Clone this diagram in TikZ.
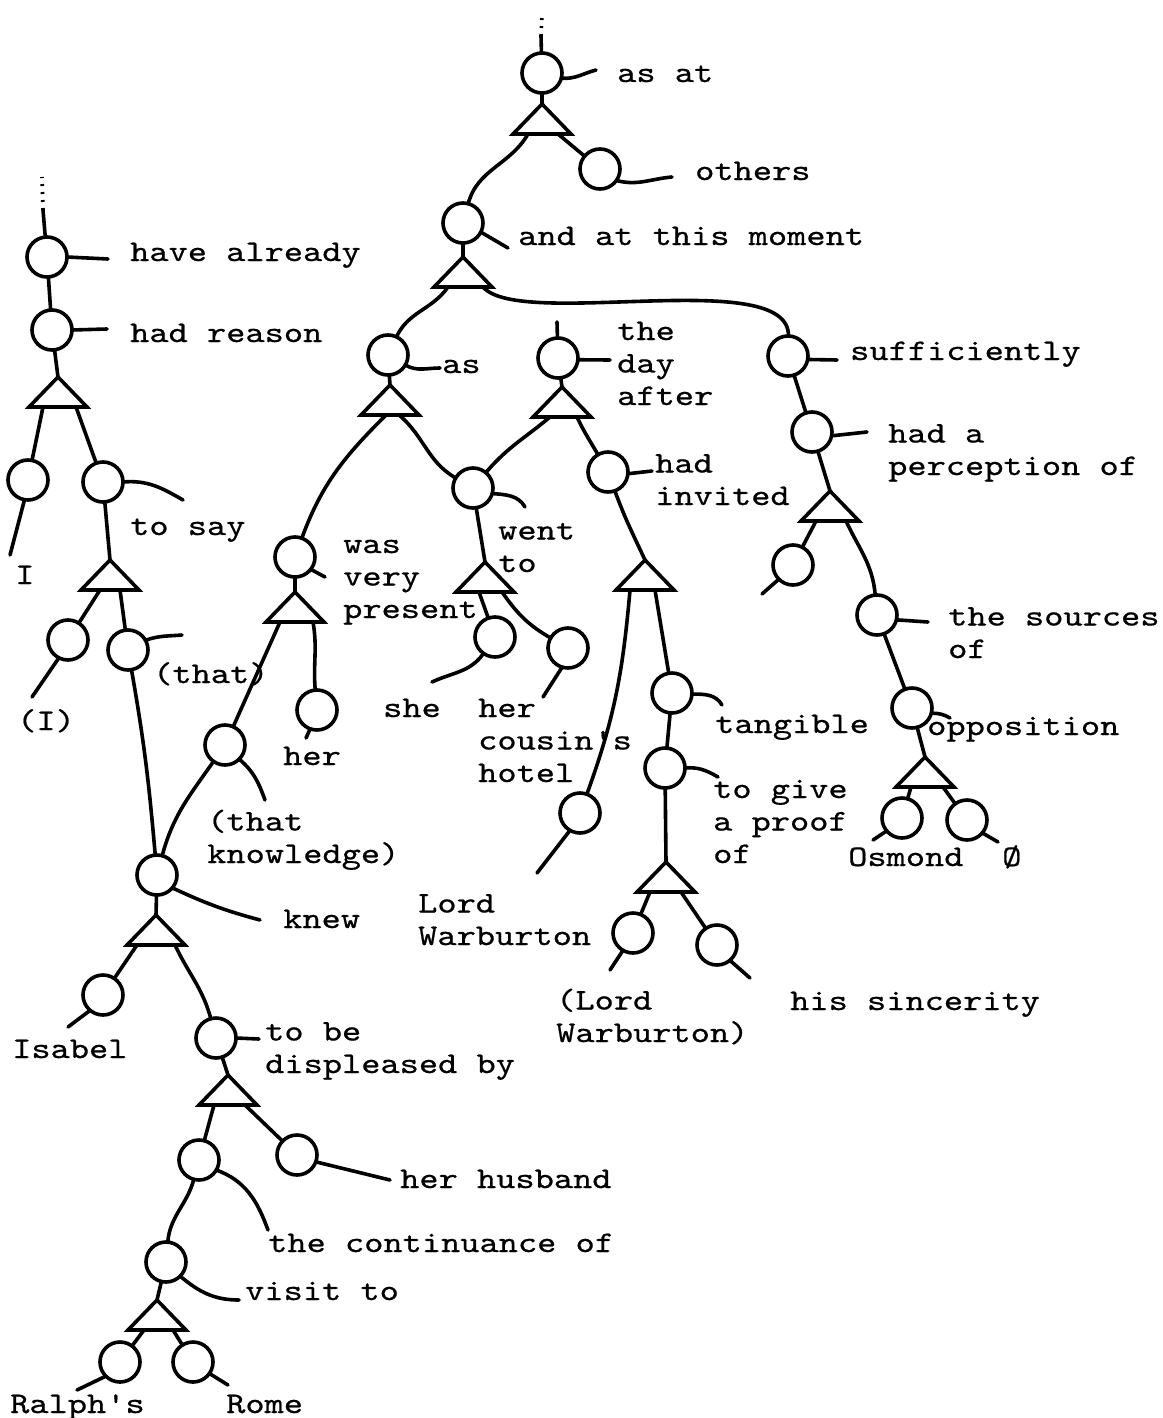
\documentclass[tikz,border=0pt]{standalone}
\usepackage{fontspec}
\usetikzlibrary{shapes.geometric}
\newfontfamily\TypeFont{lmmono10-regular.otf}[FakeStretch=1.22, FakeBold=0.6]

\begin{document}
\begin{tikzpicture}[x=1pt,y=-1pt]
	  \useasboundingbox (0,0) rectangle (1162,1418);
	  \tikzset{CircleStyle/.style = {circle,
	  								  draw,
	  								  line width     = 3.6pt,
									  inner sep      = 0pt,
	                                 outer sep      = 0pt,
	                                 minimum size   = 40pt}}

	  \tikzset{TriangleStyle/.style = {isosceles triangle,
	  								  draw,
	  								  line width     = 3.6pt,
	  								  shape border rotate = 90,
	  								  isosceles triangle stretches,
	  								  minimum width  = 58pt,
	  								  minimum height = 30pt,
									  inner sep      = 0pt,
	                                 outer sep      = 0pt,
	                                 anchor         = apex}}

	  \tikzset{EdgeStyle/.style   = {line width = 3.6pt, line cap = round}}
	  \tikzset{DotStyle/.style    = {line width = 3.6pt, dash pattern = on 2pt off 6pt}}

	  \tikzset{LabelStyle/.style =   {anchor = base west, inner sep = 0pt, align = left,
	                                 font = \TypeFont\fontsize{30pt}{32.5pt}\selectfont}}

	     % right tree
	     \node[CircleStyle](C_1) at (542,73) {};
	     \node[CircleStyle](C_2) at (600,169) {};
	     \node[CircleStyle](C_3) at (463,223) {};
	     \node[CircleStyle](C_4) at (388,355) {};
	     \node[CircleStyle](C_5) at (558,358) {};
	     \node[CircleStyle](C_6) at (788,356) {};
	     \node[CircleStyle](C_7) at (473,488) {};
	     \node[CircleStyle](C_8) at (495,637) {};
	     \node[CircleStyle](C_9) at (568,648) {};
	     \node[CircleStyle](C_10) at (295,557) {};
	     \node[CircleStyle](C_11) at (225,745) {};
	     \node[CircleStyle](C_12) at (317,710) {};
	     \node[CircleStyle](C_13) at (608,472) {};
	     \node[CircleStyle](C_14) at (580,813) {};
	     \node[CircleStyle](C_15) at (672,693) {};
	     \node[CircleStyle](C_16) at (665,768) {};
	     \node[CircleStyle](C_17) at (633,933) {};
	     \node[CircleStyle](C_18) at (717,945) {};
	     \node[CircleStyle](C_19) at (812,432) {};
	     \node[CircleStyle](C_20) at (793,565) {};
	     \node[CircleStyle](C_21) at (877,615) {};
	     \node[CircleStyle](C_22) at (912,708) {};
	     \node[CircleStyle](C_23) at (902,818) {};
	     \node[CircleStyle](C_24) at (967,820) {};

	     \node[TriangleStyle](T_1) at (542,104) {};
	     \node[TriangleStyle](T_2) at (463,257) {};
	     \node[TriangleStyle](T_3) at (390,385) {};
	     \node[TriangleStyle](T_4) at (562,387) {};
	     \node[TriangleStyle](T_5) at (485,562) {};
	     \node[TriangleStyle](T_6) at (295,592) {};
	     \node[TriangleStyle](T_7) at (645,560) {};
	     \node[TriangleStyle](T_8) at (666,862) {};
	     \node[TriangleStyle](T_9) at (830,491) {};
	     \node[TriangleStyle](T_10) at (925,757) {};

	     % left tree
	     \node[CircleStyle](C_25) at (47,257) {};
	     \node[CircleStyle](C_26) at (52,330) {};
	     \node[CircleStyle](C_27) at (28,480) {};
	     \node[CircleStyle](C_28) at (103,482) {};
	     \node[CircleStyle](C_29) at (68,640) {};
	     \node[CircleStyle](C_30) at (128,650) {};
	     \node[CircleStyle](C_31) at (157,875) {};
	     \node[CircleStyle](C_32) at (103,995) {};
	     \node[CircleStyle](C_33) at (216,1038) {};
	     \node[CircleStyle](C_34) at (199,1160) {};
	     \node[CircleStyle](C_35) at (297,1155) {};
	     \node[CircleStyle](C_36) at (166,1262) {};
	     \node[CircleStyle](C_37) at (120,1362) {};
	     \node[CircleStyle](C_38) at (193,1362) {};

	     \node[TriangleStyle](T_11) at (58,377) {};
	     \node[TriangleStyle](T_12) at (110,560) {};
	     \node[TriangleStyle](T_13) at (156,915) {};
	     \node[TriangleStyle](T_14) at (228,1075) {};
	     \node[TriangleStyle](T_15) at (157,1300) {};

	     \coordinate (D_1) at (542,14);
	     \coordinate (D_2) at (541,36);
	     \coordinate (D_3) at (42,177);
	     \coordinate (D_4) at (43,210);
	     \coordinate (D_5) at (557,322);
	     \coordinate (D_6) at (762,594);

	     \node[LabelStyle](L_1) at (617,82) {as at};
	     \node[LabelStyle](L_2) at (695,180) {others};
	     \node[LabelStyle](L_3) at (518,245) {and at this moment};
	     \node[LabelStyle](L_4) at (442,373) {as};
	     \node[LabelStyle](L_5) at (617,405) {the\\day\\after};
	     \node[LabelStyle](L_6) at (850,360) {sufficiently};
	     \node[LabelStyle](L_7) at (498,572) {went\\to};
	     \node[LabelStyle](L_8) at (383,717) {she};
	     \node[LabelStyle](L_9) at (478,782) {her\\cousin's\\hotel};
	     \node[LabelStyle](L_10) at (343,618) {was\\very\\present};
	     \node[LabelStyle](L_11) at (207,863) {(that\\knowledge)};
	     \node[LabelStyle](L_12) at (283,765) {her};
	     \node[LabelStyle](L_13) at (655,505) {had\\invited};
	     \node[LabelStyle](L_14) at (418,945) {Lord\\Warburton};
	     \node[LabelStyle](L_15) at (715,733) {tangible};
	     \node[LabelStyle](L_16) at (713,863) {to give\\a proof\\of};
	     \node[LabelStyle](L_17) at (556,1042) {(Lord\\Warburton)};
	     \node[LabelStyle](L_18) at (790,1010) {his sincerity};
	     \node[LabelStyle](L_19) at (888,475) {had a\\perception of};
	     \node[LabelStyle](L_21) at (948,658) {the sources\\of};
	     \node[LabelStyle](L_22) at (927,735) {opposition};
	     \node[LabelStyle](L_23) at (848,866) {Osmond};
	     \node[LabelStyle](L_24) at (1002,866) {Ø};
	     \node[LabelStyle](L_25) at (130,261) {have already};
	     \node[LabelStyle](L_26) at (130,342) {had reason};
	     \node[LabelStyle](L_27) at (15,584) {I};
	     \node[LabelStyle](L_28) at (130,535) {to say};
	     \node[LabelStyle](L_29) at (17,730) {(I)};
	     \node[LabelStyle](L_30) at (153,683) {(that)};
	     \node[LabelStyle](L_31) at (283,928) {knew};
	     \node[LabelStyle](L_32) at (12,1058) {Isabel};
	     \node[LabelStyle](L_33) at (265,1073) {to be\\displeased by};
	     \node[LabelStyle](L_34) at (268,1252) {the continuance of};
	     \node[LabelStyle](L_35) at (400,1188) {her husband};
	     \node[LabelStyle](L_36) at (245,1300) {visit to};
	     \node[LabelStyle](L_37) at (10,1413) {Ralph's};
	     \node[LabelStyle](L_38) at (226,1413) {Rome};

	     \draw[DotStyle](D_2) -- (D_1);
	     \draw[EdgeStyle](D_2) -- (C_1);
	     \draw[EdgeStyle](C_1) -- (T_1.apex);
	     \draw[EdgeStyle]([xshift=-14pt]T_1.lower side) to[out=-120,in=75] (C_3);
	     \draw[EdgeStyle]([xshift=16pt]T_1.lower side) -- (C_2);
	     \draw[EdgeStyle](C_3) -- (T_2.apex);
	     \draw[EdgeStyle]([xshift=-15pt]T_2.lower side) to[out=-125,in=65] (C_4);
	     \draw[EdgeStyle]([xshift=20pt]T_2.lower side) .. controls (520,330) and (790,265) .. (C_6);
	     \draw[EdgeStyle](C_4) -- (T_3.apex);
	     \draw[EdgeStyle]([xshift=-4pt]T_3.lower side) to[out=-135,in=70] (C_10);
	     \draw[EdgeStyle]([xshift=9pt]T_3.lower side) to[out=-40,in=150] (C_7);
	     \draw[EdgeStyle](C_5) -- (T_4.apex);
	     \draw[EdgeStyle](C_5) -- (D_5);
	     \draw[EdgeStyle]([xshift=-12pt]T_4.lower side) to[out=-140,in=50] (C_7);
	     \draw[EdgeStyle]([xshift=15pt]T_4.lower side) to[out=-65,in=120] (C_13);
	     \draw[EdgeStyle](C_7) -- (T_5.apex);
	     \draw[EdgeStyle]([xshift=-6pt]T_5.lower side) -- (C_8);
	     \draw[EdgeStyle]([xshift=17pt]T_5.lower side) to[out=-55,in=150] (C_9);
	     \draw[EdgeStyle](C_10) -- (T_6.apex);
	     \draw[EdgeStyle]([xshift=-15pt]T_6.lower side) -- (C_11);
	     \draw[EdgeStyle](C_11) to[out=-125,in=75] (C_31);
	     \draw[EdgeStyle]([xshift=18pt]T_6.lower side) to[out=-80,in=95] (C_12);
	     \draw[EdgeStyle](C_13) to[out=-70,in=115] (T_7.apex);
	     \draw[EdgeStyle]([xshift=-15pt]T_7.lower side) to[out=-95,in=70] (C_14);
	     \draw[EdgeStyle]([xshift=10pt]T_7.lower side) -- (C_15);
	     \draw[EdgeStyle](C_15) -- (C_16);
	     \draw[EdgeStyle](C_16) -- (T_8.apex);
	     \draw[EdgeStyle]([xshift=-16pt]T_8.lower side) -- (C_17);
	     \draw[EdgeStyle]([xshift=15pt]T_8.lower side) -- (C_18);
	     \draw[EdgeStyle](C_6) -- (C_19);
	     \draw[EdgeStyle](C_19) -- (T_9.apex);
	     \draw[EdgeStyle]([xshift=-14pt]T_9.lower side) -- (C_20);
	     \draw[EdgeStyle]([xshift=16pt]T_9.lower side) to[out=-65,in=95] (C_21);
	     \draw[EdgeStyle](C_21) -- (C_22);
	     \draw[EdgeStyle](C_22) -- (T_10.apex);
	     \draw[EdgeStyle]([xshift=-14pt]T_10.lower side) -- (C_23);
	     \draw[EdgeStyle]([xshift=18pt]T_10.lower side) -- (C_24);

	     \draw[DotStyle](D_4) -- (D_3);
	     \draw[EdgeStyle](D_4) -- (C_25);
	     \draw[EdgeStyle](C_25) -- (C_26);
	     \draw[EdgeStyle](C_26) -- (T_11.apex);
	     \draw[EdgeStyle]([xshift=-15pt]T_11.lower side) -- (C_27);
	     \draw[EdgeStyle]([xshift=18pt]T_11.lower side) -- (C_28);
	     \draw[EdgeStyle](C_28) -- (T_12.apex);
	     \draw[EdgeStyle]([xshift=-10pt]T_12.lower side) -- (C_29);
	     \draw[EdgeStyle]([xshift=10pt]T_12.lower side) -- (C_30);
	     \draw[EdgeStyle](C_30) to[out=-80,in=95] (C_31);
	     \draw[EdgeStyle](C_31) -- (T_13.apex);
	     \draw[EdgeStyle]([xshift=-19pt]T_13.lower side) -- (C_32);
	     \draw[EdgeStyle]([xshift=19pt]T_13.lower side) to[out=-65,in=105] (C_33);
	     \draw[EdgeStyle](C_33) -- (T_14.apex);
	     \draw[EdgeStyle]([xshift=-14pt]T_14.lower side) -- (C_34);
	     \draw[EdgeStyle]([xshift=17pt]T_14.lower side) -- (C_35);
	     \draw[EdgeStyle](C_34) to[out=-105,in=85] (C_36);
	     \draw[EdgeStyle](C_36) -- (T_15.apex);
	     \draw[EdgeStyle]([xshift=-13pt]T_15.lower side) -- (C_37);
	     \draw[EdgeStyle]([xshift=16pt]T_15.lower side) -- (C_38);

	     \draw[EdgeStyle](C_1.-15) to[out=-5,in=195] ([shift={(-21,-12)}]L_1.base west);
	     \draw[EdgeStyle](C_2.-35) to[out=-15,in=185] ([shift={(-23,-3)}]L_2.base west);
	     \draw[EdgeStyle](C_3.-27) -- ([shift={(-10,3)}]L_3.base west);
	     \draw[EdgeStyle](C_4.-30) to[out=-30,in=180] ([shift={(-2,-5)}]L_4.base west);
	     \draw[EdgeStyle](C_5.-5) -- ([shift={(-7,-45)}]L_5.base west);
	     \draw[EdgeStyle](C_6.-10) -- ([shift={(-13,0)}]L_6.base west);
	     \draw[EdgeStyle](C_7.-16) to[out=-5,in=120] ([shift={(27,-65)}]L_7.base west);
	     \draw[EdgeStyle](C_8.235) to[out=235,in=25] ([shift={(49,-35)}]L_8.base west);
	     \draw[EdgeStyle](C_9.253) -- ([shift={(65,-85)}]L_9.base west);
	     \draw[EdgeStyle](C_10.-38) -- ([shift={(-18,-41)}]L_10.base west);
	     \draw[EdgeStyle](C_11.-45) to[out=-40,in=110] ([shift={(58,-63)}]L_11.base west);
	     \draw[EdgeStyle](C_12.-110) -- ([shift={(23,-27)}]L_12.base west);
	     \draw[EdgeStyle](C_13.-5) -- ([shift={(-3,-34)}]L_13.base west);
	     \draw[EdgeStyle](C_14.240) -- ([shift={(119,-72)}]L_14.base west);
	     \draw[EdgeStyle](C_15.-3) to[out=0,in=120] ([shift={(7,-28)}]L_15.base west);
	     \draw[EdgeStyle](C_16.0) to[out=5,in=150] ([shift={(5,-86)}]L_16.base west);
	     \draw[EdgeStyle](C_17.240) -- ([shift={(54,-72)}]L_17.base west);
	     \draw[EdgeStyle](C_18.-50) -- ([shift={(-40,-32)}]L_18.base west);
	     \draw[EdgeStyle](C_19.-11) -- ([shift={(-21,-43)}]L_19.base west);
	     \draw[EdgeStyle](C_20.225) -- (D_6);
	     \draw[EdgeStyle](C_21.-14) -- ([shift={(-20,-36)}]L_21.base west);
	     \draw[EdgeStyle](C_22.-15) to[out=0,in=150] ([shift={(23,-17)}]L_22.base west);
	     \draw[EdgeStyle](C_23.220) -- ([shift={(25,-26)}]L_23.base west);
	     \draw[EdgeStyle](C_24.-40) -- ([shift={(-4,-24)}]L_24.base west);
	     \draw[EdgeStyle](C_25.0) -- ([shift={(-22,-2)}]L_25.base west);
	     \draw[EdgeStyle](C_26.0) -- ([shift={(-23,-13)}]L_26.base west);
	     \draw[EdgeStyle](C_27.260) -- ([shift={(-5,-29)}]L_27.base west);
	     \draw[EdgeStyle](C_28.0) to[out=5,in=150] ([shift={(53,-35)}]L_28.base west);
	     \draw[EdgeStyle](C_29.243) -- ([shift={(15,-33)}]L_29.base west);
	     \draw[EdgeStyle](C_30.29) to[out=20,in=185] ([shift={(29,-48)}]L_30.base west);
	     \draw[EdgeStyle](C_31.-40) to[out=-25,in=165] ([shift={(-23,-8)}]L_31.base west);
	     \draw[EdgeStyle](C_32.230) -- ([shift={(56,-31)}]L_32.base west);
	     \draw[EdgeStyle](C_33.0) -- ([shift={(-6,-34)}]L_33.base west);
	     \draw[EdgeStyle](C_34.-30) to[out=-20,in=110] ([shift={(0,-22)}]L_34.base west);
	     \draw[EdgeStyle](C_35.-20) -- ([shift={(-10,-8)}]L_35.base west);
	     \draw[EdgeStyle](C_36.-45) to[out=-40,in=180] ([shift={(-6,0)}]L_36.base west);
	     \draw[EdgeStyle](C_37.225) -- ([shift={(67,-23)}]L_37.base west);
	     \draw[EdgeStyle](C_38.-35) -- ([shift={(2,-28)}]L_38.base west);

	  \end{tikzpicture}
\end{document}
